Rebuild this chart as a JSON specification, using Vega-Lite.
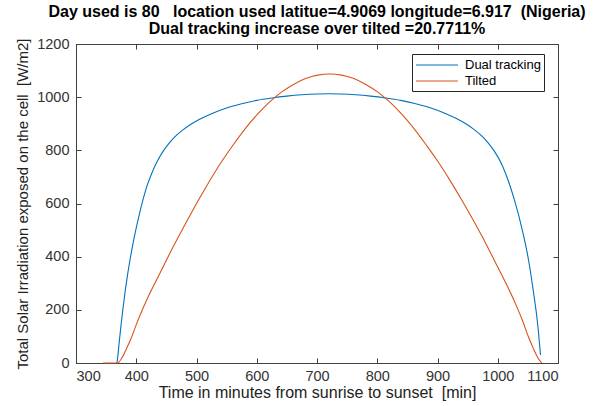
{
  "$schema": "https://vega.github.io/schema/vega-lite/v6.json",
  "width": 482,
  "height": 319,
  "autosize": {"type": "none"},
  "padding": {"left": 76, "top": 44, "right": 56, "bottom": 43},
  "background": "white",
  "config": {
    "font": "Liberation Sans",
    "view": {"stroke": "#404040", "strokeWidth": 1}
  },
  "title": {
    "text": ["Day used is 80\u00a0\u00a0\u00a0location used latitue=4.9069 longitude=6.917\u00a0\u00a0(Nigeria)", "Dual tracking increase over tilted =20.7711%"],
    "font": "Liberation Sans",
    "fontSize": 16,
    "fontWeight": "bold",
    "color": "#000000",
    "anchor": "middle",
    "offset": -1,
    "lineHeight": 17
  },
  "data": {
    "values": [
      {"t": 368, "v": 0, "series": "Dual tracking"},
      {"t": 370, "v": 38, "series": "Dual tracking"},
      {"t": 372, "v": 84, "series": "Dual tracking"},
      {"t": 375, "v": 148, "series": "Dual tracking"},
      {"t": 378, "v": 206, "series": "Dual tracking"},
      {"t": 382, "v": 276, "series": "Dual tracking"},
      {"t": 386, "v": 338, "series": "Dual tracking"},
      {"t": 390, "v": 393, "series": "Dual tracking"},
      {"t": 395, "v": 454, "series": "Dual tracking"},
      {"t": 400, "v": 508, "series": "Dual tracking"},
      {"t": 406, "v": 568, "series": "Dual tracking"},
      {"t": 412, "v": 621, "series": "Dual tracking"},
      {"t": 418, "v": 667, "series": "Dual tracking"},
      {"t": 426, "v": 715, "series": "Dual tracking"},
      {"t": 434, "v": 755, "series": "Dual tracking"},
      {"t": 445, "v": 798, "series": "Dual tracking"},
      {"t": 456, "v": 831, "series": "Dual tracking"},
      {"t": 467, "v": 857, "series": "Dual tracking"},
      {"t": 478, "v": 878, "series": "Dual tracking"},
      {"t": 492, "v": 900, "series": "Dual tracking"},
      {"t": 506, "v": 918, "series": "Dual tracking"},
      {"t": 525, "v": 938, "series": "Dual tracking"},
      {"t": 550, "v": 959, "series": "Dual tracking"},
      {"t": 575, "v": 975, "series": "Dual tracking"},
      {"t": 600, "v": 988, "series": "Dual tracking"},
      {"t": 625, "v": 997, "series": "Dual tracking"},
      {"t": 650, "v": 1004, "series": "Dual tracking"},
      {"t": 675, "v": 1009, "series": "Dual tracking"},
      {"t": 700, "v": 1012, "series": "Dual tracking"},
      {"t": 720, "v": 1013, "series": "Dual tracking"},
      {"t": 739, "v": 1012, "series": "Dual tracking"},
      {"t": 764, "v": 1009, "series": "Dual tracking"},
      {"t": 789, "v": 1004, "series": "Dual tracking"},
      {"t": 814, "v": 997, "series": "Dual tracking"},
      {"t": 839, "v": 988, "series": "Dual tracking"},
      {"t": 864, "v": 975, "series": "Dual tracking"},
      {"t": 889, "v": 959, "series": "Dual tracking"},
      {"t": 914, "v": 938, "series": "Dual tracking"},
      {"t": 933, "v": 918, "series": "Dual tracking"},
      {"t": 947, "v": 900, "series": "Dual tracking"},
      {"t": 961, "v": 878, "series": "Dual tracking"},
      {"t": 972, "v": 857, "series": "Dual tracking"},
      {"t": 983, "v": 831, "series": "Dual tracking"},
      {"t": 994, "v": 798, "series": "Dual tracking"},
      {"t": 1005, "v": 755, "series": "Dual tracking"},
      {"t": 1013, "v": 713, "series": "Dual tracking"},
      {"t": 1021, "v": 662, "series": "Dual tracking"},
      {"t": 1027, "v": 618, "series": "Dual tracking"},
      {"t": 1033, "v": 570, "series": "Dual tracking"},
      {"t": 1039, "v": 516, "series": "Dual tracking"},
      {"t": 1044, "v": 468, "series": "Dual tracking"},
      {"t": 1049, "v": 413, "series": "Dual tracking"},
      {"t": 1053, "v": 362, "series": "Dual tracking"},
      {"t": 1057, "v": 302, "series": "Dual tracking"},
      {"t": 1061, "v": 240, "series": "Dual tracking"},
      {"t": 1064, "v": 190, "series": "Dual tracking"},
      {"t": 1067, "v": 130, "series": "Dual tracking"},
      {"t": 1069, "v": 80, "series": "Dual tracking"},
      {"t": 1071, "v": 30, "series": "Dual tracking"},
      {"t": 345, "v": 0, "series": "Tilted"},
      {"t": 369, "v": 0, "series": "Tilted"},
      {"t": 375, "v": 15, "series": "Tilted"},
      {"t": 383, "v": 50, "series": "Tilted"},
      {"t": 391, "v": 90, "series": "Tilted"},
      {"t": 401, "v": 150, "series": "Tilted"},
      {"t": 411, "v": 205, "series": "Tilted"},
      {"t": 421, "v": 255, "series": "Tilted"},
      {"t": 441, "v": 345, "series": "Tilted"},
      {"t": 461, "v": 436, "series": "Tilted"},
      {"t": 481, "v": 521, "series": "Tilted"},
      {"t": 501, "v": 604, "series": "Tilted"},
      {"t": 521, "v": 682, "series": "Tilted"},
      {"t": 541, "v": 755, "series": "Tilted"},
      {"t": 561, "v": 821, "series": "Tilted"},
      {"t": 581, "v": 882, "series": "Tilted"},
      {"t": 601, "v": 935, "series": "Tilted"},
      {"t": 621, "v": 981, "series": "Tilted"},
      {"t": 641, "v": 1019, "series": "Tilted"},
      {"t": 661, "v": 1048, "series": "Tilted"},
      {"t": 681, "v": 1070, "series": "Tilted"},
      {"t": 701, "v": 1083, "series": "Tilted"},
      {"t": 721, "v": 1087, "series": "Tilted"},
      {"t": 741, "v": 1083, "series": "Tilted"},
      {"t": 761, "v": 1070, "series": "Tilted"},
      {"t": 781, "v": 1048, "series": "Tilted"},
      {"t": 801, "v": 1019, "series": "Tilted"},
      {"t": 821, "v": 981, "series": "Tilted"},
      {"t": 841, "v": 935, "series": "Tilted"},
      {"t": 861, "v": 882, "series": "Tilted"},
      {"t": 881, "v": 821, "series": "Tilted"},
      {"t": 901, "v": 757, "series": "Tilted"},
      {"t": 921, "v": 686, "series": "Tilted"},
      {"t": 941, "v": 610, "series": "Tilted"},
      {"t": 961, "v": 530, "series": "Tilted"},
      {"t": 981, "v": 446, "series": "Tilted"},
      {"t": 1001, "v": 356, "series": "Tilted"},
      {"t": 1021, "v": 265, "series": "Tilted"},
      {"t": 1031, "v": 215, "series": "Tilted"},
      {"t": 1041, "v": 160, "series": "Tilted"},
      {"t": 1051, "v": 98, "series": "Tilted"},
      {"t": 1059, "v": 55, "series": "Tilted"},
      {"t": 1067, "v": 18, "series": "Tilted"},
      {"t": 1073, "v": 0, "series": "Tilted"}
    ]
  },
  "layer": [
    {
      "mark": {"type": "line", "strokeWidth": 1.1, "interpolate": "monotone"},
      "encoding": {
        "x": {
          "field": "t", "type": "quantitative",
          "scale": {"domain": [300, 1100], "nice": false, "zero": false},
          "axis": {
            "orient": "bottom",
            "title": "Time in minutes from sunrise to sunset\u00a0\u00a0[min]",
            "values": [300, 400, 500, 600, 700, 800, 900, 1000, 1100],
            "format": "d",
            "grid": false,
            "tickSize": -5,
            "tickColor": "#404040",
            "domainColor": "#404040",
            "labelFont": "Liberation Sans",
            "labelFontSize": 14.5,
            "labelColor": "#333333",
            "labelPadding": 11,
            "titleFont": "Liberation Sans",
            "titleFontSize": 16,
            "titleFontWeight": "normal",
            "titleColor": "#222222",
            "titlePadding": 2
          }
        },
        "y": {
          "field": "v", "type": "quantitative",
          "scale": {"domain": [0, 1200], "nice": false},
          "axis": {
            "orient": "left",
            "title": "Total Solar Irradiation exposed on the cell\u00a0\u00a0[W/m2]",
            "values": [0, 200, 400, 600, 800, 1000, 1200],
            "format": "d",
            "grid": false,
            "tickSize": -5,
            "tickColor": "#404040",
            "domainColor": "#404040",
            "labelFont": "Liberation Sans",
            "labelFontSize": 14.5,
            "labelColor": "#333333",
            "labelPadding": 12,
            "titleFont": "Liberation Sans",
            "titleFontSize": 15,
            "titleFontWeight": "normal",
            "titleColor": "#222222",
            "titlePadding": 6
          }
        },
        "color": {
          "field": "series", "type": "nominal",
          "scale": {"domain": ["Dual tracking", "Tilted"], "range": ["#0072BD", "#D95319"]},
          "legend": {
            "orient": "none",
            "legendX": 336,
            "legendY": 10,
            "direction": "vertical",
            "title": null,
            "symbolType": "M-1,0H5",
            "symbolSize": 196,
            "symbolStrokeWidth": 1.1,
            "labelOffset": 34,
            "labelFont": "Liberation Sans",
            "labelFontSize": 13,
            "labelColor": "#000000",
            "padding": 3,
            "rowPadding": 1,
            "strokeColor": "#262626",
            "fillColor": "white"
          }
        }
      }
    },
    {
      "mark": {"type": "line", "opacity": 0},
      "encoding": {
        "x": {
          "field": "t", "type": "quantitative",
          "axis": {"orient": "top", "title": null, "labels": false, "domain": false, "grid": false, "tickSize": -5, "tickColor": "#404040", "values": [300, 400, 500, 600, 700, 800, 900, 1000, 1100]}
        },
        "y": {
          "field": "v", "type": "quantitative",
          "axis": {"orient": "right", "title": null, "labels": false, "domain": false, "grid": false, "tickSize": -5, "tickColor": "#404040", "values": [0, 200, 400, 600, 800, 1000, 1200]}
        },
        "detail": {"field": "series", "type": "nominal"}
      }
    }
  ],
  "resolve": {"axis": {"x": "independent", "y": "independent"}}
}
